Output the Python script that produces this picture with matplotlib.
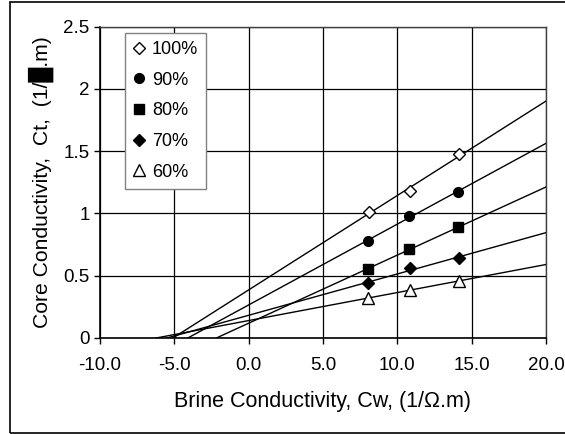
import numpy as np
import matplotlib
matplotlib.use("Agg")
import matplotlib.pyplot as plt
from matplotlib.patches import Rectangle

# data
labels = ["100%", "90%", "80%", "70%", "60%"]
cw_100 = [8.07, 10.85, 14.17]
ct_100 = [1.014, 1.180, 1.474]
cw_90 = [8.00, 10.76, 14.10]
ct_90 = [0.778, 0.976, 1.175]
cw_80 = [8.00, 10.80, 14.10]
ct_80 = [0.554, 0.714, 0.888]
cw_70 = [8.00, 10.85, 14.17]
ct_70 = [0.439, 0.559, 0.645]
cw_60 = [8.03, 10.85, 14.17]
ct_60 = [0.322, 0.382, 0.460]

xticks = [-10.0, -5.0, 0.0, 5.0, 10.0, 15.0, 20.0]
yticks = [0, 0.5, 1, 1.5, 2, 2.5]
ytick_labels = ["0", "0.5", "1", "1.5", "2", "2.5"]

series = [
    (cw_100, ct_100, dict(marker="D", mfc="white", mec="black", ms=6.5, mew=1.0)),
    (cw_90, ct_90, dict(marker="o", mfc="black", mec="black", ms=7)),
    (cw_80, ct_80, dict(marker="s", mfc="black", mec="black", ms=7)),
    (cw_70, ct_70, dict(marker="D", mfc="black", mec="black", ms=6.5)),
    (cw_60, ct_60, dict(marker="^", mfc="white", mec="black", ms=8, mew=1.0)),
]

plt.rcParams["font.family"] = ["Liberation Sans", "DejaVu Sans"]
plt.rcParams["font.size"] = 13.5

fig = plt.figure(figsize=(5.65, 4.34), dpi=100, facecolor="w")
ax = fig.add_axes([100 / 565, 1 - 338 / 434, 446 / 565, (338 - 26.7) / 434])

for (xs, ys, style), lab in zip(series, labels):
    # linear trend, forecast back to where it meets Ct = 0
    slope, icpt = np.polyfit(xs, ys, 1)
    x0 = max(-icpt / slope, -10)
    xl = np.array([x0, 20.0])
    ax.plot(xl, icpt + slope * xl, color="black", lw=1.0, zorder=2)
    ax.plot(xs, ys, linestyle="none", label=lab, zorder=3, **style)

ax.set_xlim(-10, 20)
ax.set_ylim(0, 2.5)
ax.set_xticks(xticks)
ax.set_xticklabels(["%.1f" % v for v in xticks])
ax.set_yticks(yticks)
ax.set_yticklabels(ytick_labels)
ax.grid(True, color="black", lw=0.9)
ax.set_axisbelow(True)
ax.tick_params(direction="out", length=4, width=1, color="black", labelsize=13.5)
ax.tick_params(axis="x", pad=10)
ax.tick_params(axis="y", pad=3.5)
for side in ["left", "bottom"]:
    ax.spines[side].set_linewidth(1.2)
    ax.spines[side].set_color("black")
for side in ["top", "right"]:
    ax.spines[side].set_linewidth(1.0)
    ax.spines[side].set_color("#404040")

ax.set_xlabel("Brine Conductivity, Cw, (1/\u03a9.m)", fontsize=15.5, labelpad=12)
ax.set_ylabel("Core Conductivity,  Ct,  (1/\u2588.m)", fontsize=15.2, labelpad=7)

leg = ax.legend(loc="upper left", bbox_to_anchor=(25 / 446, 1 - 6 / 311.3),
                frameon=True, fancybox=False, framealpha=1, edgecolor="#808080",
                handlelength=0.6, handletextpad=0.45, labelspacing=0.76,
                borderpad=0.45, borderaxespad=0, fontsize=13)
leg.get_frame().set_linewidth(1.0)

# outer chart border
fig.patches.append(Rectangle((10 / 565, 1.5 / 434), 1.2, 430.5 / 434,
                             transform=fig.transFigure, fill=False,
                             edgecolor="black", lw=1.2))

fig.savefig("out.png", dpi=100)
